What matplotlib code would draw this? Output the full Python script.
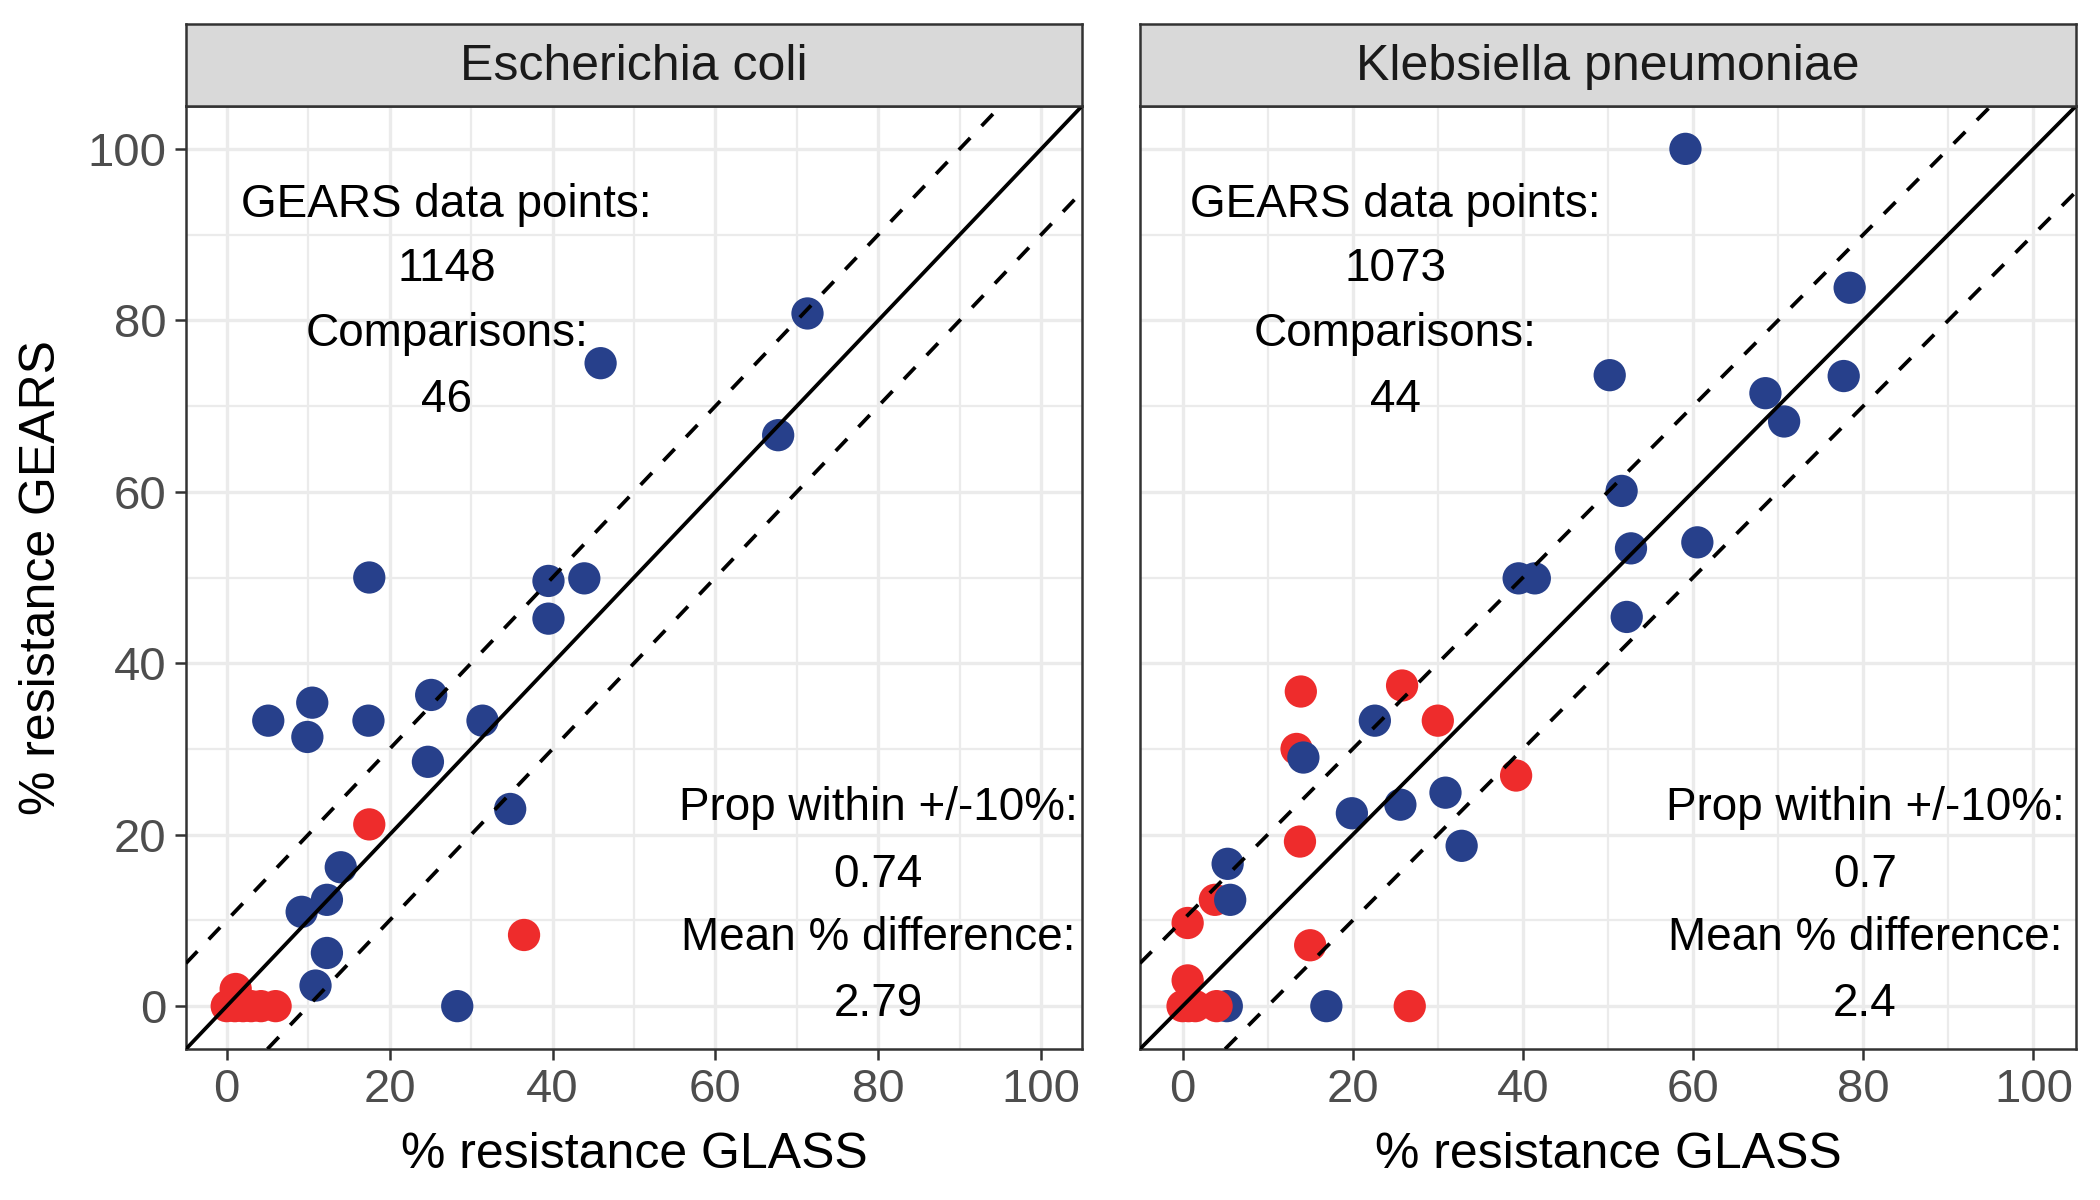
import matplotlib
matplotlib.use("Agg")
import matplotlib.pyplot as plt
import numpy as np

plt.rcParams['font.family'] = ['Liberation Sans', 'DejaVu Sans']

# ---------------- data ----------------
panel_titles = ["Escherichia coli", "Klebsiella pneumoniae"]

# Escherichia coli: GLASS %, GEARS %, flagged (red) or not (blue)
ecoli_glass = [5.1, 10.5, 9.9, 17.4, 25.1, 31.4, 24.7, 34.8, 14.0, 12.3, 9.2, 12.3,
               10.9, 28.3, 17.5, 39.5, 43.9, 39.5, 45.9, 67.7, 71.3,
               17.5, 36.5, 0.0, 1.0, 2.0, 3.0, 4.2, 6.0, 1.1]
ecoli_gears = [33.3, 35.4, 31.4, 33.3, 36.3, 33.3, 28.5, 23.0, 16.2, 12.4, 11.0, 6.2,
               2.4, 0.0, 50.0, 49.6, 49.9, 45.2, 75.0, 66.6, 80.8,
               21.2, 8.3, 0.0, 0.0, 0.0, 0.0, 0.0, 0.0, 2.0]
ecoli_flag = [False] * 21 + [True] * 9

# Klebsiella pneumoniae
kpn_glass = [5.2, 16.9,
             13.9, 25.8, 30.0, 13.4, 39.2, 13.8, 3.8, 0.6, 15.0, 0.6, 0.0, 0.7, 1.5, 4.0, 26.7,
             22.6, 14.2, 30.9, 25.6, 19.9, 32.8, 5.3, 5.6, 59.1, 78.4, 50.2, 68.5, 70.7,
             77.7, 51.6, 52.7, 60.5, 39.5, 41.4, 52.2]
kpn_gears = [0.0, 0.0,
             36.7, 37.4, 33.3, 30.0, 26.9, 19.2, 12.4, 9.7, 7.1, 3.0, 0.0, 0.0, 0.0, 0.0, 0.0,
             33.3, 29.0, 24.9, 23.5, 22.5, 18.7, 16.6, 12.4, 100.0, 83.8, 73.6, 71.5, 68.2,
             73.5, 60.1, 53.4, 54.1, 49.9, 49.9, 45.4]
kpn_flag = [False] * 2 + [True] * 15 + [False] * 20

gears_points = [1148, 1073]
comparisons = [46, 44]
prop_within = ["0.74", "0.7"]
mean_diff = ["2.79", "2.4"]

ticks = [0, 20, 40, 60, 80, 100]
minor_ticks = [10, 30, 50, 70, 90]

BLUE = "#27408B"
RED = "#EE2C2C"

# ---------------- figure ----------------
W, H = 2100, 1200
fig = plt.figure(figsize=(21, 12), dpi=100)

def fx(px):
    return px / W

def fy(py):
    return 1 - py / H

ax_top, ax_bot = 106, 1049
strip_top = 24
panels = [(186, 1082), (1140, 2076)]
top_text_x = [27, 25]
bot_text_x = [80.0, 80.2]

datasets = [(ecoli_glass, ecoli_gears, ecoli_flag), (kpn_glass, kpn_gears, kpn_flag)]

for i, (l, r) in enumerate(panels):
    ax = fig.add_axes([fx(l), fy(ax_bot), fx(r) - fx(l), fy(ax_top) - fy(ax_bot)])
    gx, gy, fl = datasets[i]
    cols = [RED if f else BLUE for f in fl]
    ax.scatter(gx, gy, s=540, c=cols, linewidths=0, zorder=3)

    ax.axline((0, 0), slope=1, color="black", lw=2.7, zorder=4)
    ax.axline((0, 10), slope=1, color="black", lw=2.7, ls=(0, (4.4, 4.4)), zorder=4)
    ax.axline((0, -10), slope=1, color="black", lw=2.7, ls=(0, (4.4, 4.4)), zorder=4)

    ax.set_xlim(-5, 105)
    ax.set_ylim(-5, 105)
    ax.set_xticks(ticks)
    ax.set_yticks(ticks)
    ax.set_xticks(minor_ticks, minor=True)
    ax.set_yticks(minor_ticks, minor=True)
    ax.grid(which="major", color="#EBEBEB", lw=2.4, zorder=0)
    ax.grid(which="minor", color="#EBEBEB", lw=1.6, zorder=0)
    ax.set_axisbelow(True)
    ax.tick_params(which="minor", length=0)
    ax.tick_params(which="major", length=8, width=1.8, color="#333333",
                   labelsize=34, labelcolor="#4D4D4D", pad=6)
    if i == 1:
        ax.tick_params(axis="y", which="both", left=False, labelleft=False)
    for sp in ax.spines.values():
        sp.set_color("#333333")
        sp.set_linewidth(1.8)

    # annotations
    tx = top_text_x[i]
    for y, s in zip([93.5, 86.0, 78.4, 70.7],
                    ["GEARS data points:", str(gears_points[i]), "Comparisons:", str(comparisons[i])]):
        ax.text(tx, y, s, ha="center", va="center", fontsize=33, color="black", zorder=5)
    bx = bot_text_x[i]
    for y, s in zip([23.1, 15.3, 7.9, 0.2],
                    ["Prop within +/-10%:", prop_within[i], "Mean % difference:", mean_diff[i]]):
        ax.text(bx, y, s, ha="center", va="center", fontsize=33, color="black", zorder=5)

    # strip
    sax = fig.add_axes([fx(l), fy(ax_top), fx(r) - fx(l), fy(strip_top) - fy(ax_top)])
    sax.set_facecolor("#D9D9D9")
    sax.set_xticks([])
    sax.set_yticks([])
    for sp in sax.spines.values():
        sp.set_color("#333333")
        sp.set_linewidth(1.8)
    sax.text(0.5, 0.48, panel_titles[i], ha="center", va="center", fontsize=36,
             color="#1A1A1A", transform=sax.transAxes)

    fig.text(fx((l + r) / 2), fy(1155), "% resistance GLASS", ha="center", va="center",
             fontsize=36, color="black")

fig.text(fx(42), fy((ax_top + ax_bot) / 2), "% resistance GEARS", ha="center", va="center",
         rotation=90, fontsize=36, color="black")

fig.savefig("out.png", dpi=100)
